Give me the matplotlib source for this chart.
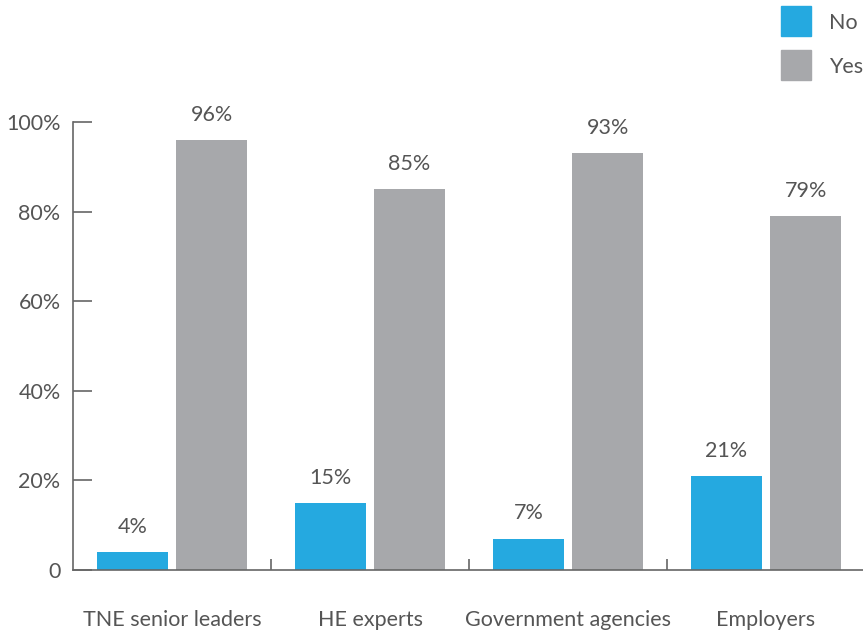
import matplotlib
matplotlib.use("Agg")
import matplotlib.pyplot as plt
from matplotlib.patches import Rectangle
import numpy as np

categories = ["TNE senior leaders", "HE experts", "Government agencies", "Employers"]
no_vals = [4, 15, 7, 21]
yes_vals = [96, 85, 93, 79]
y_ticks = [0, 20, 40, 60, 80, 100]
y_labels = ["0", "20%", "40%", "60%", "80%", "100%"]
series_names = ["No", "Yes"]

BLUE = "#25A9E0"
GREY = "#A7A8AB"
TXT = "#555555"
AX = "#666666"
FS = 15.5
W, H = 863, 633

plt.rcParams['font.family'] = ['Lato', 'DejaVu Sans']

fig = plt.figure(figsize=(W/100, H/100), dpi=100)
ax = fig.add_axes([73/W, 63/H, 792/W, 448/H])

x = np.arange(len(categories))
w = 0.36
b1 = ax.bar(x - 0.2, no_vals, w, color=BLUE, label=series_names[0])
b2 = ax.bar(x + 0.2, yes_vals, w, color=GREY, label=series_names[1])

for rect, v in list(zip(b1, no_vals)) + list(zip(b2, yes_vals)):
    ax.annotate(f"{v}%", (rect.get_x() + rect.get_width()/2, v),
                xytext=(0, 11), textcoords="offset points",
                ha="center", va="bottom", fontsize=FS, color=TXT)

ax.set_xlim(-0.5, 3.5)
ax.set_ylim(0, 100)
ax.set_yticks(y_ticks)
ax.set_yticklabels(y_labels)
ax.set_xticks(x, minor=False)
ax.set_xticklabels(categories)
ax.tick_params(axis='x', length=0, pad=29, labelsize=FS, colors=TXT)
ax.set_xticks([0.5, 1.5, 2.5], minor=True)
ax.tick_params(axis='x', which='minor', direction='in', length=8, color=AX, width=1.2)
ax.tick_params(axis='y', direction='in', length=14, width=1.2, color=AX, labelsize=FS, labelcolor=TXT, pad=9)

for s in ['top', 'right']:
    ax.spines[s].set_visible(False)
for s in ['left', 'bottom']:
    ax.spines[s].set_color(AX)
    ax.spines[s].set_linewidth(1.2)

# legend (manual, figure pixel layout)
for i, (name, col) in enumerate(zip(series_names, [BLUE, GREY])):
    top = 6 + i * 44
    fig.patches.append(Rectangle((781/W, 1 - (top + 30)/H), 30/W, 30/H,
                                 transform=fig.transFigure, color=col))
    fig.text(829/W, 1 - (top + 17)/H, name, ha="left", va="center",
             fontsize=FS, color=TXT)

fig.savefig("out.png", dpi=100)
